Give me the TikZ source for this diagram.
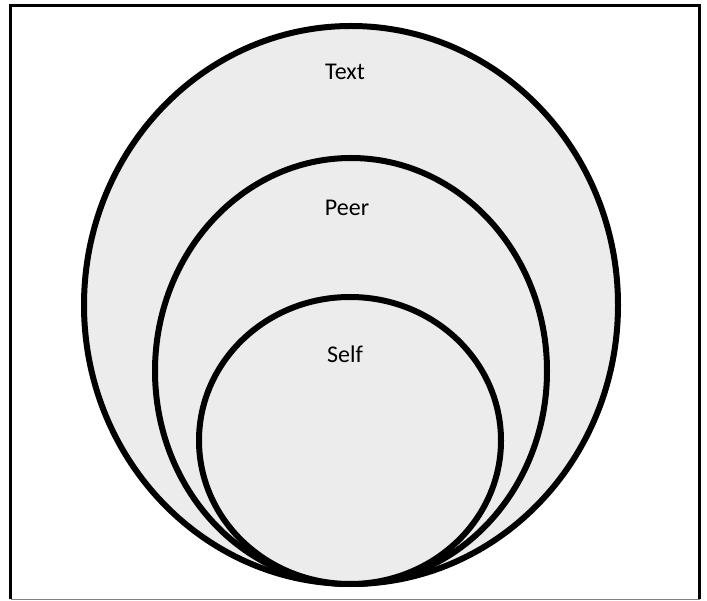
\documentclass[tikz,border=0pt]{standalone}
\usepackage{fontspec}
\setmainfont{Carlito}
\begin{document}
\begin{tikzpicture}[x=1pt,y=-1pt,
  ring/.style={draw=black,line width=6pt,fill=gray!15},
  lbl/.style={font=\fontsize{24}{27}\selectfont,text=black}]
\useasboundingbox (0,0) rectangle (707,601);
\fill[white] (0,0) rectangle (707,601);
\draw[line width=3pt] (10.5,599) -- (10.5,5.5) -- (699.5,5.5) -- (699.5,599);
\draw[gray,line width=1.5pt] (10.5,599.5) -- (699.5,599.5);
\draw[ring] (351,305) ellipse [x radius=267, y radius=279];
\draw[ring] (351,371) ellipse [x radius=196, y radius=213];
\draw[ring] (350,440.5) ellipse [x radius=151, y radius=143.5];
\node[lbl] (t) at (345,72) {Text};
\node[lbl] (p) at (347,208) {Peer};
\node[lbl] (s) at (345,354) {Self};
\end{tikzpicture}
\end{document}
